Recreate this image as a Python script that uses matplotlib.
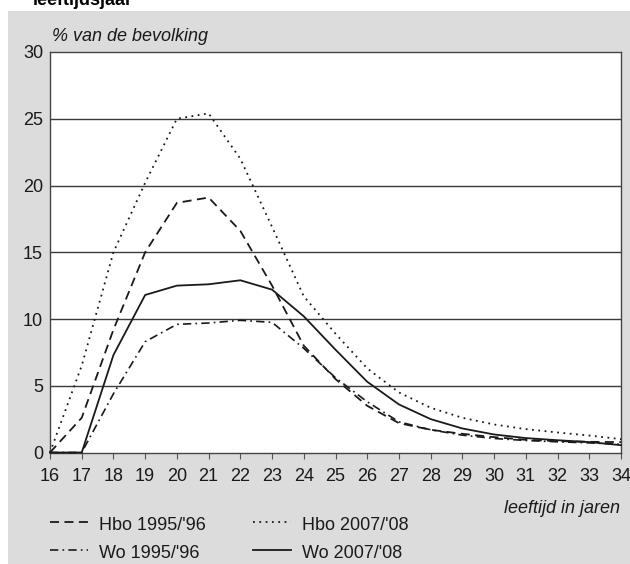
import matplotlib.pyplot as plt
from matplotlib.lines import Line2D
from matplotlib.patches import Rectangle

plt.rcParams['font.family'] = ['Liberation Sans', 'DejaVu Sans']

# leeftijd en % van de bevolking per leeftijdsjaar
ages = list(range(16, 35))
hbo_1995 = [0, 2.6, 9.2, 15.0, 18.7, 19.1, 16.6, 12.5, 8.0, 5.5, 3.5, 2.2, 1.7, 1.4, 1.15, 0.95, 0.85, 0.8, 0.78]
hbo_2007 = [0, 6.5, 15.0, 20.2, 25.0, 25.4, 22.0, 16.9, 11.7, 8.9, 6.3, 4.5, 3.35, 2.6, 2.1, 1.75, 1.5, 1.27, 1.0]
wo_1995 = [0, 0, 4.4, 8.3, 9.6, 9.7, 9.9, 9.75, 7.8, 5.6, 3.8, 2.3, 1.7, 1.3, 1.05, 0.9, 0.8, 0.72, 0.62]
wo_2007 = [0, 0, 7.3, 11.8, 12.5, 12.6, 12.9, 12.2, 10.2, 7.7, 5.3, 3.6, 2.5, 1.8, 1.35, 1.08, 0.92, 0.78, 0.55]

labels = ["Hbo 1995/'96", "Hbo 2007/'08", "Wo 1995/'96", "Wo 2007/'08"]
series = [hbo_1995, hbo_2007, wo_1995, wo_2007]
styles = [(0, (5, 3)), (0, (1, 2.5)), (0, (5, 2.5, 1, 2.5)), '-']
widths = [1.3, 1.3, 1.2, 1.3]

W, H = 630, 564
fig = plt.figure(figsize=(6.3, 5.64), dpi=100)
fig.patch.set_facecolor('white')

def fx(px):
    return px / W

def fy(py):
    return 1 - py / H

# grijze achtergrond
fig.add_artist(Rectangle((fx(8), 0), 1 - fx(8), fy(11), transform=fig.transFigure,
                         facecolor='#dcdcdc', edgecolor='none', zorder=0))
fig.text(fx(33), fy(5), 'leeftijdsjaar', fontsize=13, fontweight='bold', va='baseline')

ax = fig.add_axes([fx(50), fy(452.5), fx(621) - fx(50), fy(52) - fy(452.5)])
ax.set_facecolor('white')

for y in range(5, 30, 5):
    ax.axhline(y, color='#3a3a3a', lw=1.0, zorder=1)

for vals, ls, lw in zip(series, styles, widths):
    ax.plot(ages, vals, color='#1a1a1a', linestyle=ls, lw=lw, zorder=3, clip_on=False)

ax.set_xlim(16, 34)
ax.set_ylim(0, 30)
ax.set_xticks(ages)
ax.set_yticks(range(0, 31, 5))
ax.tick_params(axis='x', direction='out', length=4.5, width=0.8, color='#555555',
               labelsize=13, pad=7, labelcolor='#1a1a1a')
ax.tick_params(axis='y', length=0, labelsize=13, pad=5, labelcolor='#1a1a1a')
for s in ax.spines.values():
    s.set_color('#444444')
    s.set_linewidth(1.0)

fig.text(fx(52), fy(41), '% van de bevolking', fontsize=13, fontstyle='italic',
         va='baseline', color='#1a1a1a')
fig.text(fx(620), fy(513), 'leeftijd in jaren', fontsize=13, fontstyle='italic',
         va='baseline', ha='right', color='#1a1a1a')

# legenda
pos = [(50, 530), (253, 530), (50, 558), (253, 558)]
for (px, py), lab, ls, lw in zip(pos, labels, styles, widths):
    fig.add_artist(Line2D([fx(px), fx(px + 38)], [fy(py - 8), fy(py - 8)],
                          transform=fig.transFigure, color='#1a1a1a', linestyle=ls, lw=lw))
    fig.text(fx(px + 49), fy(py), lab, fontsize=13, va='baseline', color='#1a1a1a')

fig.savefig('out.png', dpi=100)
